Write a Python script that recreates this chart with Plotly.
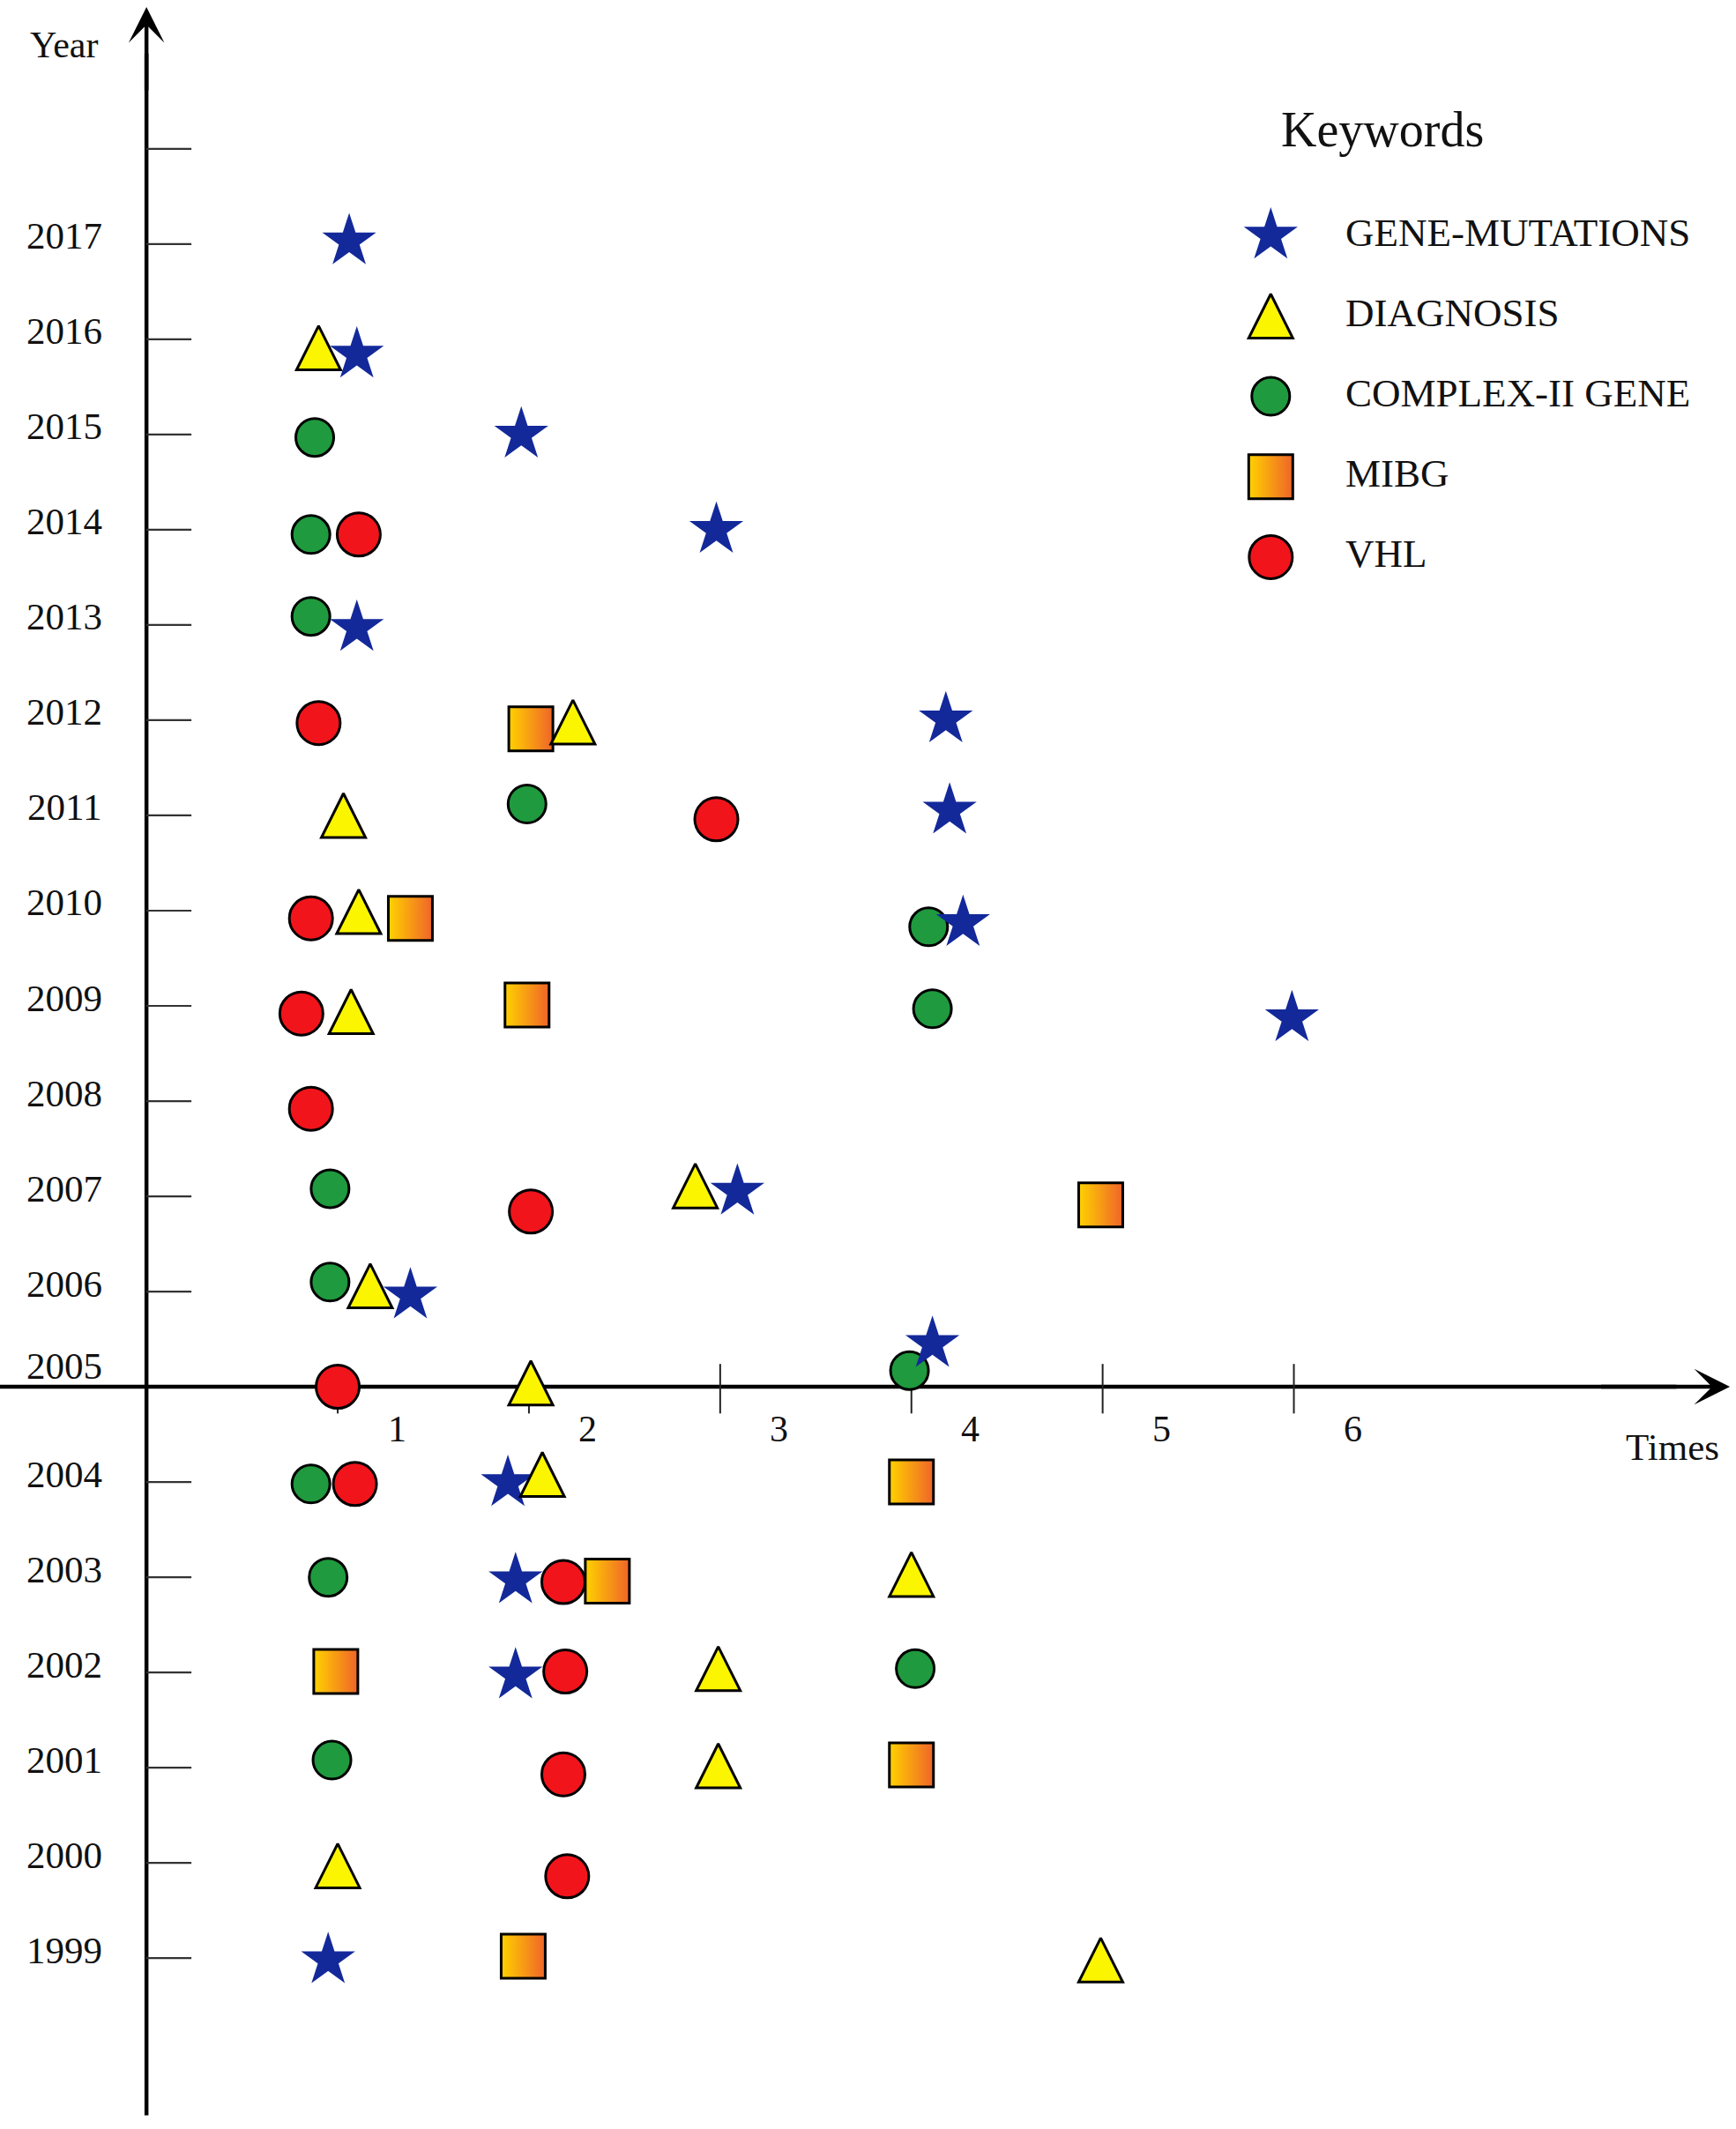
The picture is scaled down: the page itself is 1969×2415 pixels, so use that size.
import plotly.graph_objects as go

# -------------------------
# DATA  (x = times, y = year)
# -------------------------
keywords = ["GENE-MUTATIONS", "DIAGNOSIS", "COMPLEX-II GENE", "MIBG", "VHL"]

gene_x = [1.06, 1.10, 1.96, 2.98, 1.10, 4.18, 4.20, 4.27, 5.99, 3.09, 1.38, 4.11, 1.89, 1.93, 1.93, 0.95]
gene_y = [2017.03, 2015.84, 2015.0, 2014.0, 2012.97, 2012.01, 2011.05, 2009.87, 2008.87,
          2007.05, 2005.96, 2005.45, 2003.99, 2002.97, 2001.97, 1998.98]

diag_x = [0.90, 2.23, 1.03, 1.11, 1.07, 2.87, 1.17, 2.01, 2.07, 4.00, 2.99, 2.99, 1.00, 4.99]
diag_y = [2015.91, 2011.98, 2011.0, 2009.99, 2008.94, 2007.11, 2006.06, 2005.04, 2004.08,
          2003.03, 2002.04, 2001.02, 1999.97, 1998.98]

complex_x = [0.88, 0.86, 0.86, 1.99, 4.09, 4.11, 0.96, 0.96, 3.99, 0.86, 0.95, 4.02, 0.97]
complex_y = [2014.97, 2013.95, 2013.09, 2011.12, 2009.83, 2008.97, 2007.08, 2006.10, 2005.17,
             2003.98, 2003.0, 2002.04, 2001.08]

mibg_x = [2.01, 1.38, 1.99, 4.99, 4.00, 2.41, 0.99, 4.00, 1.97]
mibg_y = [2011.91, 2009.92, 2009.01, 2006.91, 2004.0, 2002.96, 2002.01, 2001.03, 1999.02]

vhl_x = [1.11, 0.90, 2.98, 0.86, 0.81, 0.86, 2.01, 1.00, 1.09, 2.18, 2.19, 2.18, 2.20]
vhl_y = [2013.95, 2011.97, 2010.96, 2009.92, 2008.92, 2007.92, 2006.84, 2005.0, 2003.98,
         2002.95, 2002.01, 2000.93, 1999.86]

year_ticks = list(range(1999, 2019))
year_labels = [str(y) for y in range(1999, 2018)]
times_ticks = [1, 2, 3, 4, 5, 6]

# -------------------------
# STYLE
# -------------------------
FONT = "Liberation Serif, Times New Roman, serif"
W, H = 1969, 2415
X_RANGE = [-0.766, 8.312]
Y_RANGE = [1997.206, 2019.563]
LEG_X_RANGE = [-1, 5]
LEG_Y_RANGE = [5, -2]
LEG_X_DOMAIN = [0.689, 0.947]
LEG_Y_DOMAIN = [0.7006, 0.9648]
X_ORIGIN = 0
Y_ORIGIN = 2005
OUTLINE = dict(color="black", width=3)
TRI_SIZE = 50

styles = {
    "GENE-MUTATIONS": dict(symbol="star", size=46, color="#13299a", line=dict(width=0)),
    # arrow-up is a near-equilateral triangle hanging below its anchor point
    "DIAGNOSIS": dict(symbol="arrow-up", size=TRI_SIZE, color="#fcf500", line=OUTLINE),
    "COMPLEX-II GENE": dict(symbol="circle", size=43, color="#1f9a3e", line=OUTLINE),
    "MIBG": dict(symbol="square", size=50, color="#ffd200", line=OUTLINE,
                 gradient=dict(type="horizontal", color="#ef6429")),
    "VHL": dict(symbol="circle", size=49, color="#f2141b", line=OUTLINE),
}
series = {
    "GENE-MUTATIONS": (gene_x, gene_y),
    "DIAGNOSIS": (diag_x, diag_y),
    "COMPLEX-II GENE": (complex_x, complex_y),
    "MIBG": (mibg_x, mibg_y),
    "VHL": (vhl_x, vhl_y),
}
draw_order = ["DIAGNOSIS", "COMPLEX-II GENE", "VHL", "MIBG", "GENE-MUTATIONS"]


def half_marker_shift(rng, domain, size):
    """Half a marker height expressed in axis units (used to centre the triangles)."""
    units_per_px = abs(rng[1] - rng[0]) / ((domain[1] - domain[0]) * H)
    return size / 2 * units_per_px


d_main = half_marker_shift(Y_RANGE, [0, 1], TRI_SIZE)
d_leg = half_marker_shift(LEG_Y_RANGE, LEG_Y_DOMAIN, TRI_SIZE)

fig = go.Figure()

for name in draw_order:
    xs, ys = series[name]
    yax = "y3" if name == "DIAGNOSIS" else "y"
    fig.add_trace(go.Scatter(x=xs, y=ys, mode="markers", name=name, yaxis=yax,
                             marker=styles[name], showlegend=False, hoverinfo="skip"))

# hand-made legend on its own little axes
for i, name in enumerate(keywords):
    yax = "y4" if name == "DIAGNOSIS" else "y2"
    fig.add_trace(go.Scatter(x=[0], y=[i], mode="markers", marker=styles[name],
                             xaxis="x2", yaxis=yax, showlegend=False, hoverinfo="skip"))
fig.add_trace(go.Scatter(x=[1] * len(keywords), y=list(range(len(keywords))), mode="text",
                         text=keywords, textposition="middle right", cliponaxis=False,
                         textfont=dict(family=FONT, size=45, color="#111"),
                         xaxis="x2", yaxis="y2", showlegend=False, hoverinfo="skip"))

# -------------------------
# AXES (drawn by hand, crossing at 2005 / 0)
# -------------------------
shapes = [
    dict(type="line", x0=X_ORIGIN, x1=X_ORIGIN, y0=1997.35, y1=2019.0,
         line=dict(color="black", width=4.5), layer="below"),
    dict(type="line", x0=X_RANGE[0], x1=8.0, y0=Y_ORIGIN, y1=Y_ORIGIN,
         line=dict(color="black", width=4.5), layer="below"),
]
for y in year_ticks:
    if y == Y_ORIGIN:
        continue
    shapes.append(dict(type="line", x0=X_ORIGIN, x1=X_ORIGIN + 0.235, y0=y, y1=y,
                       line=dict(color="#333", width=2.2), layer="below"))
for t in times_ticks:
    shapes.append(dict(type="line", x0=t, x1=t, y0=Y_ORIGIN - 0.28, y1=Y_ORIGIN + 0.24,
                       line=dict(color="#222", width=2), layer="below"))

annotations = [
    # arrow heads
    dict(x=X_ORIGIN, y=2019.49, ax=X_ORIGIN, ay=2018.6, xref="x", yref="y",
         axref="x", ayref="y", text="", showarrow=True, arrowhead=3,
         arrowsize=1.5, arrowwidth=4.5, arrowcolor="black"),
    dict(x=8.28, y=Y_ORIGIN, ax=7.6, ay=Y_ORIGIN, xref="x", yref="y",
         axref="x", ayref="y", text="", showarrow=True, arrowhead=3,
         arrowsize=1.5, arrowwidth=4.5, arrowcolor="black"),
]
for lab in year_labels:
    # the 2005 label sits just above the horizontal axis line
    lift = 24 if int(lab) == Y_ORIGIN else 9
    annotations.append(dict(x=-0.43, y=int(lab), text=lab, showarrow=False, yshift=lift,
                            font=dict(family=FONT, size=43, color="#111")))
for t in times_ticks:
    annotations.append(dict(x=t, y=Y_ORIGIN, text=str(t), showarrow=False,
                            xshift=67, yshift=-48,
                            font=dict(family=FONT, size=42, color="#111")))
annotations.append(dict(x=-0.43, y=2019, text="Year", showarrow=False, yshift=10,
                        font=dict(family=FONT, size=42, color="#111")))
annotations.append(dict(x=7.98, y=Y_ORIGIN, text="Times", showarrow=False, yshift=-68,
                        font=dict(family=FONT, size=43, color="#111")))
annotations.append(dict(x=0.11, y=-1.32, xref="x2", yref="y2", text="Keywords",
                        showarrow=False, xanchor="left",
                        font=dict(family=FONT, size=56, color="#111")))

fig.update_layout(
    width=W, height=H,
    margin=dict(l=0, r=0, t=0, b=0),
    paper_bgcolor="white", plot_bgcolor="rgba(0,0,0,0)",
    xaxis=dict(range=X_RANGE, visible=False, domain=[0, 1]),
    yaxis=dict(range=Y_RANGE, visible=False, domain=[0, 1]),
    yaxis3=dict(range=[Y_RANGE[0] - d_main, Y_RANGE[1] - d_main], overlaying="y",
                visible=False),
    xaxis2=dict(range=LEG_X_RANGE, domain=LEG_X_DOMAIN, anchor="y2", visible=False),
    yaxis2=dict(range=LEG_Y_RANGE, domain=LEG_Y_DOMAIN, anchor="x2", visible=False),
    yaxis4=dict(range=[LEG_Y_RANGE[0] + d_leg, LEG_Y_RANGE[1] + d_leg], overlaying="y2",
                anchor="x2", visible=False),
    shapes=shapes,
    annotations=annotations,
    hovermode=False,
)

# page has a default 8px body margin; drop it so the figure fills the window
fig.write_html("out.html", config={"displayModeBar": False},
               post_script="document.body.style.margin='0';")
